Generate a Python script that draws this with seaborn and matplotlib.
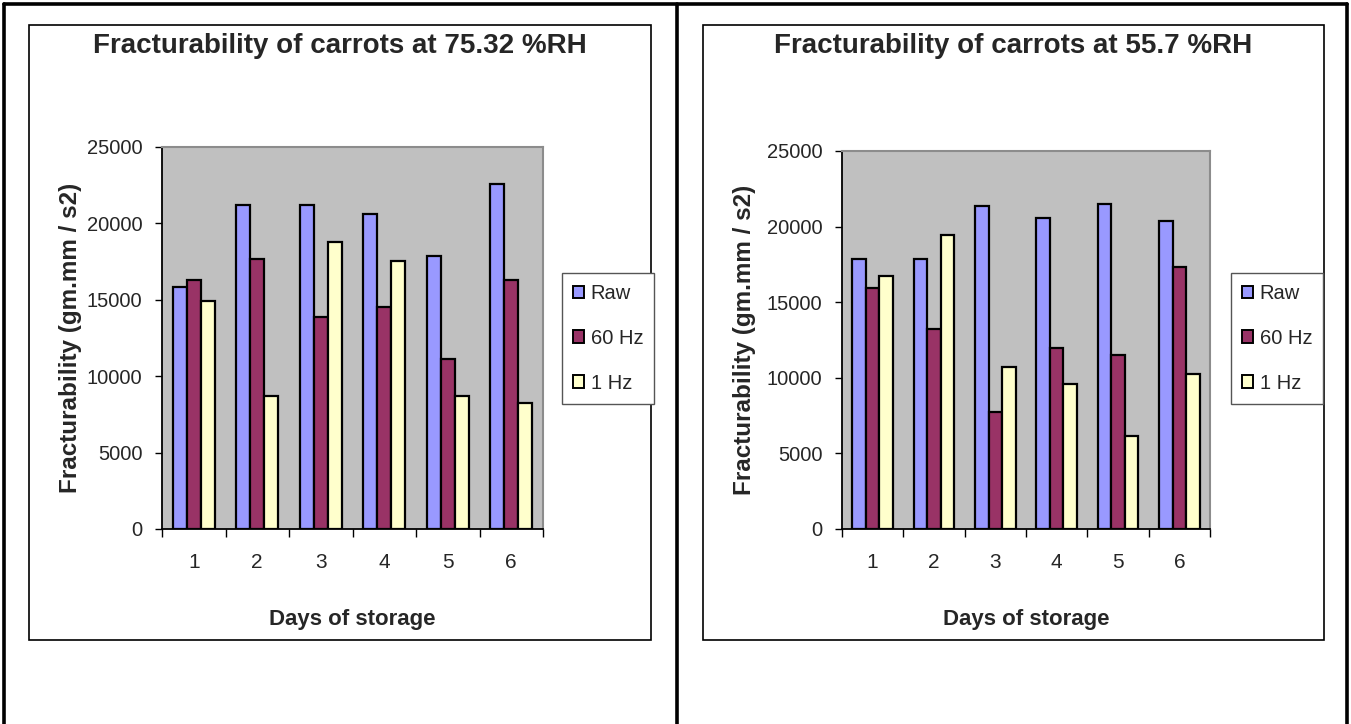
import matplotlib
matplotlib.use("Agg")
import matplotlib.pyplot as plt
from matplotlib import font_manager
from matplotlib.patches import Rectangle
from matplotlib.lines import Line2D
import seaborn as sns
import pandas as pd

# Storage days and treatment series
days = [1, 2, 3, 4, 5, 6]
series = ["Raw", "60 Hz", "1 Hz"]

# Fracturability at 75.32 %RH
rh75_raw = [15850, 21200, 21200, 20600, 17850, 22600]
rh75_60hz = [16300, 17700, 13900, 14500, 11150, 16300]
rh75_1hz = [14950, 8700, 18750, 17550, 8700, 8250]

# Fracturability at 55.7 %RH
rh55_raw = [17850, 17850, 21350, 20550, 21500, 20350]
rh55_60hz = [15950, 13250, 7750, 12000, 11500, 17350]
rh55_1hz = [16750, 19450, 10700, 9600, 6150, 10250]

titles = ["Fracturability of carrots at 75.32 %RH",
          "Fracturability of carrots at 55.7 %RH"]
xlabel = "Days of storage"
ylabel = "Fracturability (gm.mm / s2)"
yticks = [0, 5000, 10000, 15000, 20000, 25000]

colors = ["#9999FF", "#993366", "#FFFFCC"]

sns.set_style("white")
installed = {f.name for f in font_manager.fontManager.ttflist}
narrow = "Liberation Sans Narrow" if "Liberation Sans Narrow" in installed else "Liberation Sans"
plt.rcParams["font.family"] = [narrow, "DejaVu Sans"]

W, H = 1351, 724
fig = plt.figure(figsize=(W / 100, H / 100), dpi=100)


def fx(px):
    return px / W


def fy(py):
    return 1 - py / H


def long_frame(raw, hz60, hz1):
    rows = []
    for name, vals in zip(series, [raw, hz60, hz1]):
        for d, v in zip(days, vals):
            rows.append({"day": str(d), "series": name, "value": v})
    return pd.DataFrame(rows)


# table grid lines
grid_kw = dict(color="black", lw=2.6, transform=fig.transFigure, clip_on=False)
fig.add_artist(Line2D([fx(4), fx(4)], [fy(4), 0], **grid_kw))
fig.add_artist(Line2D([fx(1347), fx(1347)], [fy(4), 0], **grid_kw))
fig.add_artist(Line2D([fx(677), fx(677)], [fy(4), 0], **grid_kw))
fig.add_artist(Line2D([fx(4), fx(1347)], [fy(4), fy(4)], **grid_kw))

panels = [
    dict(data=long_frame(rh75_raw, rh75_60hz, rh75_1hz), box=(29, 25, 651, 640),
         plot=(162, 147, 543, 529), legend=(562, 273), ylab_x=71, title=titles[0]),
    dict(data=long_frame(rh55_raw, rh55_60hz, rh55_1hz), box=(703, 25, 1324, 640),
         plot=(842, 151, 1210, 529), legend=(1231, 273), ylab_x=744, title=titles[1]),
]

for p in panels:
    bx0, by0, bx1, by1 = p["box"]
    fig.add_artist(Rectangle((fx(bx0), fy(by1)), fx(bx1 - bx0), (by1 - by0) / H,
                             transform=fig.transFigure, facecolor="white",
                             edgecolor="black", lw=1.2, zorder=0))
    px0, py0, px1, py1 = p["plot"]
    ax = fig.add_axes([fx(px0), fy(py1), fx(px1 - px0), (py1 - py0) / H])
    ax.set_facecolor("#C0C0C0")
    sns.barplot(data=p["data"], x="day", y="value", hue="series", hue_order=series,
                palette=colors, edgecolor="black", linewidth=1.6, width=0.66,
                saturation=1, ax=ax)
    ax.set_ylim(0, 25000)
    ax.set_xlim(-0.5, 5.5)
    ax.set_yticks(yticks)
    ax.set_yticklabels([str(t) for t in yticks], fontsize=14.5)
    ax.set_xticks(range(len(days)))
    ax.set_xticklabels([str(d) for d in days], fontsize=15)
    ax.set_xticks([i - 0.5 for i in range(len(days) + 1)], minor=True)
    ax.tick_params(axis="x", which="major", length=0, pad=17)
    ax.tick_params(axis="x", which="minor", length=6, width=1, color="black",
                   direction="out", bottom=True)
    ax.tick_params(axis="y", length=5, width=1, color="black", direction="out",
                   pad=9, left=True)
    ax.set_xlabel("")
    ax.set_ylabel("")
    for side in ["left", "bottom"]:
        ax.spines[side].set_color("black")
        ax.spines[side].set_linewidth(1.3)
    for side in ["top", "right"]:
        ax.spines[side].set_color("#8C8C8C")
        ax.spines[side].set_linewidth(1.5)

    handles = [Rectangle((0, 0), 1, 1, facecolor=c, edgecolor="black", lw=1.4)
               for c in colors]
    lx, ly = p["legend"]
    ax.legend(handles, series, loc="upper left",
              bbox_to_anchor=(fx(lx), fy(ly)), bbox_transform=fig.transFigure,
              fontsize=14.5, frameon=True, fancybox=False, edgecolor="#555555",
              framealpha=1, borderpad=0.55, labelspacing=1.28,
              handlelength=0.55, handleheight=0.6, handletextpad=0.32,
              borderaxespad=0)
    ax.get_legend().get_frame().set_linewidth(1.0)

    cx = (bx0 + bx1) / 2
    fig.text(fx(cx), fy(46), p["title"], ha="center", va="center",
             fontsize=20, fontweight="bold")
    fig.text(fx((px0 + px1) / 2), fy(619), xlabel, ha="center", va="center",
             fontsize=16, fontweight="bold")
    fig.text(fx(p["ylab_x"]), fy((py0 + py1) / 2), ylabel, ha="center",
             va="center", rotation=90, fontsize=17.5, fontweight="bold",
             family=["Liberation Sans", "DejaVu Sans"])

fig.savefig("out.png", dpi=100, facecolor="white")
